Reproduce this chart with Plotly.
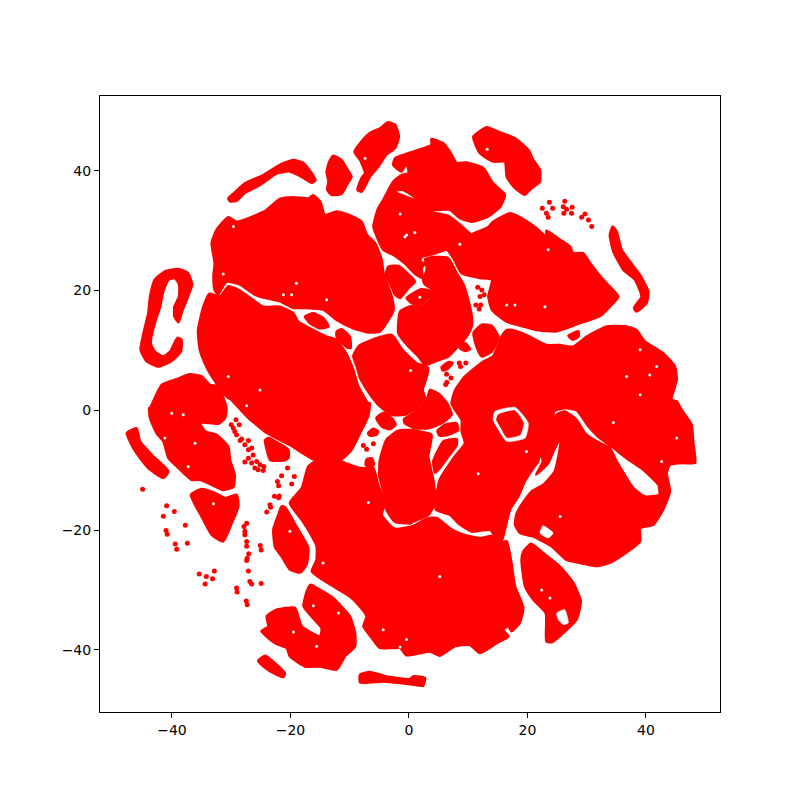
import plotly.graph_objects as go

left_loop = [(-38.9,23.6),(-37.3,22.9),(-36.6,21.0),(-37.5,18.5),(-38.4,16.2),(-38.9,14.7),(-39.6,15.7),(-39.6,17.3),(-38.8,19.0),(-38.8,21.0),(-39.5,22.1),(-40.6,21.8),(-41.5,19.8),(-42.0,17.3),(-42.9,14.6),(-43.6,11.2),(-42.9,9.8),(-41.5,9.0),(-40.3,9.8),(-39.1,12.1),(-38.4,11.8),(-38.5,9.8),(-40.1,8.2),(-42.3,7.3),(-44.3,8.2),(-45.3,10.1),(-44.8,12.9),(-44.0,16.2),(-43.7,19.0),(-42.9,21.8),(-41.2,23.2)]
top_arc = [(-30.5,35.4),(-29.4,36.4),(-27.7,37.9),(-24.6,39.3),(-21.8,41.0),(-19.5,41.8),(-17.8,41.3),(-16.4,39.6),(-15.8,38.4),(-16.4,38.0),(-18.1,39.0),(-20.1,39.9),(-22.3,39.6),(-25.1,37.65),(-27.7,36.3),(-29.1,35.0),(-30.2,34.9)]
small_top = [(-12.8,42.5),(-11.4,41.8),(-10.5,40.4),(-9.7,39.0),(-10.5,37.65),(-11.4,36.15),(-13.05,36.0),(-13.8,36.8),(-13.6,38.2),(-13.9,39.9),(-13.45,41.5)]
top_spike = [(-3.5,48.1),(-2.35,47.7),(-1.7,45.7),(-2.35,43.8),(-3.8,42.7),(-5.2,40.7),(-6.6,39.0),(-8.0,36.5),(-8.7,36.8),(-8.0,38.8),(-7.4,39.6),(-8.25,41.8),(-9.2,43.2),(-8.25,44.6),(-6.6,46.3),(-4.9,47.1)]
upper_left = [(-30.5,32.25),(-29.1,31.5),(-26.3,32.4),(-24.0,33.5),(-21.8,35.3),(-19.5,35.6),(-17.0,35.4),(-16.2,35.9),(-15.0,34.9),(-14.2,32.6),(-12.2,33.2),(-10.0,32.6),(-8.0,31.5),(-7.1,29.3),(-5.7,27.9),(-4.6,25.1),(-4.3,22.9),(-2.9,19.0),(-2.6,16.8),(-3.8,14.55),(-4.9,13.15),(-6.9,13.0),(-9.4,13.7),(-12.2,15.1),(-14.5,16.8),(-17.3,17.1),(-19.5,17.1),(-21.8,18.2),(-24.0,18.7),(-26.0,19.3),(-28.5,21.0),(-30.8,21.5),(-31.9,19.8),(-32.2,19.3),(-32.8,20.1),(-33.0,22.4),(-32.8,24.6),(-33.3,27.9),(-32.5,30.1)]
left_large = [(-33.7,19.45),(-31.9,19.0),(-30.5,20.7),(-28.8,20.1),(-26.3,18.45),(-24.6,17.3),(-21.8,17.3),(-19.5,16.2),(-18.7,14.8),(-16.7,13.7),(-13.9,12.3),(-12.2,11.8),(-10.5,9.3),(-9.4,6.75),(-8.55,4.0),(-6.9,1.2),(-6.6,1.2),(-6.9,-1.0),(-8.25,-3.8),(-9.7,-6.6),(-11.4,-8.2),(-15.9,-8.3),(-20.1,-5.8),(-24.0,-3.8),(-27.4,-1.0),(-30.0,1.75),(-30.8,2.3),(-32.5,4.5),(-34.2,7.3),(-35.3,10.1),(-35.6,13.4),(-34.7,17.3)]
bottom_large = [(-11.4,-8.55),(-8.25,-9.65),(-6.6,-9.65),(-6.0,-9.65),(-5.2,-12.4),(-4.05,-15.5),(-4.6,-17.45),(-2.65,-19.7),(-1.5,-19.8),(0.75,-19.3),(3.3,-18.0),(4.7,-18.0),(6.9,-19.7),(9.2,-20.8),(12.0,-21.35),(13.95,-21.0),(15.4,-22.1),(16.5,-21.9),(17.3,-25.5),(17.9,-29.4),(19.3,-33.0),(18.7,-35.5),(17.3,-36.9),(16.8,-36.1),(15.9,-36.65),(16.8,-37.8),(14.8,-38.9),(12.0,-40.55),(10.3,-39.2),(7.8,-39.4),(5.2,-41.0),(3.5,-40.3),(0.75,-40.8),(-0.5,-40.9),(-1.5,-39.7),(-4.9,-39.7),(-6.3,-38.0),(-7.7,-36.1),(-7.15,-34.4),(-8.8,-32.2),(-10.0,-31.1),(-12.8,-29.4),(-16.4,-26.9),(-15.6,-25.0),(-15.6,-22.7),(-16.7,-20.5),(-18.1,-18.3),(-20.1,-15.5),(-18.1,-13.0),(-17.0,-9.4),(-15.9,-8.55),(-13.9,-7.7)]
center_bottom = [(-3.8,-4.9),(-1.8,-3.4),(0.2,-3.3),(1.85,-3.55),(3.8,-4.1),(3.25,-7.7),(4.1,-11.6),(4.4,-15.5),(3.3,-17.45),(0.75,-18.6),(0.2,-18.9),(-2.4,-18.6),(-3.8,-16.6),(-4.05,-14.4),(-5.0,-11.05),(-4.9,-8.3)]
tip_blob = [(-7.15,-8.2),(-6.3,-8.0),(-5.9,-9.1),(-6.6,-9.65),(-7.3,-9.1)]
big_right = [(4.55,-16.6),(6.9,-17.45),(8.6,-19.1),(10.6,-20.25),(12.0,-20.1),(13.8,-20.0),(14.2,-20.6),(15.6,-21.9),(16.4,-19.1),(17.05,-16.6),(18.45,-14.4),(19.55,-11.9),(21.0,-9.65),(21.8,-8.55),(22.1,-7.15),(22.6,-8.55),(21.45,-10.75),(23.5,-8.85),(24.5,-6.6),(25.4,-4.65),(24.4,-1.9),(24.5,-0.2),(26.3,0.36),(28.3,0.0),(30.3,-2.7),(32.2,-4.65),(33.9,-5.8),(36.7,-8.0),(39.55,-9.95),(42.1,-12.45),(42.25,-14.1),(39.8,-14.4),(37.9,-13.0),(35.05,-8.55),(33.9,-6.3),(31.7,-5.2),(29.7,-3.8),(28.3,-1.6),(26.3,-0.2),(24.9,-0.75),(24.8,-1.9),(25.65,-4.65),(24.6,-10.2),(22.65,-12.45),(20.7,-13.55),(19.55,-15.0),(18.2,-17.2),(17.9,-19.1),(18.75,-20.5),(21.0,-21.1),(24.1,-22.75),(26.6,-25.0),(28.9,-25.5),(31.7,-26.0),(33.9,-25.5),(36.2,-24.1),(39.0,-21.9),(39.0,-19.7),(41.25,-19.1),(42.9,-16.6),(44.05,-13.55),(43.5,-10.5),(44.05,-9.1),(46.3,-8.8),(48.3,-8.8),(48.0,-5.5),(47.7,-2.4),(46.0,0.1),(45.2,1.5),(44.3,1.75),(45.2,5.1),(44.9,7.3),(42.9,9.55),(39.8,11.5),(38.4,13.4),(36.7,14.0),(33.4,14.0),(30.0,12.3),(27.7,10.65),(25.5,10.9),(23.2,10.9),(20.4,12.3),(18.2,13.2),(16.5,13.4),(15.6,12.3),(14.2,9.0),(12.55,8.15),(9.45,5.65),(7.8,3.4),(7.2,1.2),(7.75,0.1),(8.9,-1.6),(8.9,-3.55),(9.45,-5.5),(7.75,-7.7),(5.2,-11.6)]
top_mid = [(16.2,36.0),(15.4,34.0),(13.4,32.4),(10.6,31.5),(8.6,32.1),(6.9,33.5),(3.8,33.5),(1.3,35.4),(-1.0,36.8),(-2.4,36.7),(-2.1,36.3),(1.3,35.0),(3.55,33.2),(6.6,32.5),(8.6,31.0),(10.6,29.3),(10.85,29.5),(13.4,30.6),(14.2,31.5),(17.05,32.9),(19.0,32.1),(21.55,30.4),(23.2,29.0),(23.2,30.0),(25.5,28.5),(27.2,27.35),(27.7,26.25),(29.4,26.25),(30.55,24.6),(32.8,21.8),(35.35,19.0),(34.2,17.6),(32.2,15.7),(28.9,14.55),(24.9,13.2),(21.55,13.4),(19.3,14.0),(16.5,14.8),(14.0,16.8),(13.4,19.0),(14.0,21.8),(12.0,22.1),(8.9,22.9),(7.5,25.4),(6.4,26.8),(4.1,26.1),(2.15,25.6),(1.9,24.85),(2.7,24.5),(2.15,23.75),(2.3,22.1),(1.0,22.8),(-0.67,24.5),(-2.35,25.8),(-4.3,26.8),(-5.2,28.5),(-6.0,30.7),(-5.2,33.75),(-4.3,35.2),(-2.65,38.2),(-1.25,39.3),(-0.1,39.6),(-0.4,41.3),(-1.25,39.9),(-2.65,41.0),(-2.35,42.1),(0.7,43.2),(3.8,44.3),(3.8,45.3),(5.8,44.6),(6.9,43.2),(8.05,41.3),(9.7,41.4),(12.55,40.45),(14.2,37.9)]
center_upper = [(2.7,25.25),(4.1,25.6),(6.65,25.4),(8.05,22.9),(9.2,21.0),(10.0,18.45),(10.6,15.7),(10.6,14.0),(9.75,12.3),(8.05,10.4),(6.65,9.0),(4.4,8.15),(2.7,7.6),(1.6,9.0),(-0.1,10.65),(-1.8,12.9),(-1.8,14.55),(-1.5,16.5),(0.15,17.35),(2.15,17.35),(3.55,18.45),(4.0,20.1),(2.7,21.0),(2.4,21.8),(3.0,23.45),(2.9,24.45)]
triangle_blob = [(-3.5,24.0),(-1.8,24.1),(1.0,21.5),(-0.1,20.4),(-1.5,18.75),(-2.35,19.3),(-3.2,21.2),(-3.9,22.6)]
ring_cluster = [(-0.4,18.75),(0.7,19.55),(2.15,20.2),(3.85,19.85),(3.3,18.75),(1.85,17.6),(0.45,17.9)]
oval_right = [(10.9,12.9),(12.3,14.3),(13.95,14.1),(15.1,12.3),(13.95,9.8),(12.3,9.0),(11.4,10.65)]
bay_small = [(9.35,11.3),(10.3,10.2),(9.45,9.9),(8.6,10.4)]
bay_strip = [(5.5,7.2),(6.65,8.05),(7.4,7.9),(6.5,6.9),(5.7,6.65)]
center_mid = [(-9.4,9.0),(-8.55,10.65),(-5.5,12.05),(-2.9,12.6),(-1.1,10.1),(1.2,7.9),(3.25,7.05),(2.85,5.1),(2.3,3.4),(2.7,2.05),(1.6,0.55),(-0.7,-0.75),(-2.9,-0.75),(-4.9,0.65),(-6.9,3.15),(-8.25,5.4),(-8.8,7.3)]
center_wedge = [(3.55,3.4),(5.2,2.6),(6.6,0.9),(7.2,-0.75),(5.5,-2.15),(3.25,-3.0),(1.0,-3.0),(-0.7,-2.15),(-0.85,-1.5),(0.73,-0.5),(2.1,0.55),(3.1,2.05)]
oval_left = [(-5.5,-1.3),(-4.3,-0.4),(-2.9,-1.3),(-2.25,-2.4),(-3.2,-3.15),(-4.6,-2.7)]
gap_cluster = [(-6.9,-3.8),(-6.0,-3.1),(-5.2,-3.5),(-5.5,-4.1),(-6.6,-4.25)]
oval_mid = [(4.8,-3.5),(6.1,-2.4),(8.0,-2.15),(8.3,-3.3),(6.6,-4.1),(5.2,-4.25)]
sliver = [(5.8,-5.2),(8.05,-4.8),(8.05,-5.8),(6.9,-7.4),(5.2,-9.65),(4.4,-10.4),(4.1,-8.55),(4.95,-6.6)]
channel_oval = [(-17.55,15.67),(-16.15,16.2),(-14.45,15.4),(-13.6,14.0),(-15.0,13.7),(-16.7,14.55)]
channel_tri = [(-12.2,13.15),(-11.4,13.55),(-10.0,12.3),(-9.85,10.4),(-10.5,10.55),(-12.2,12.3)]
left_mid = [(-43.7,0.4),(-41.75,4.25),(-39.2,5.2),(-37.0,6.0),(-35.0,5.65),(-33.6,4.25),(-32.2,4.0),(-30.8,0.35),(-31.05,-1.3),(-32.2,-2.25),(-35.3,-2.05),(-34.4,-3.55),(-32.5,-4.1),(-30.5,-6.05),(-30.2,-8.3),(-29.4,-10.8),(-29.65,-12.8),(-31.35,-13.3),(-33.3,-12.45),(-35.3,-11.6),(-36.7,-11.6),(-38.9,-9.65),(-40.6,-8.0),(-41.45,-5.2),(-42.6,-3.8),(-43.7,-1.3),(-43.85,0.35)]
far_left_band = [(-47.65,-3.8),(-46.0,-3.0),(-45.4,-5.2),(-43.15,-7.7),(-40.6,-10.2),(-41.45,-11.3),(-44.0,-9.65),(-46.0,-7.15),(-47.1,-5.2)]
left_lower = [(-36.8,-14.1),(-35.0,-13.15),(-32.75,-13.8),(-31.05,-14.65),(-29.1,-14.1),(-28.8,-16.05),(-29.9,-18.85),(-31.35,-21.9),(-33.3,-20.8),(-35.0,-17.75),(-36.1,-15.8)]
mid_small = [(-24.3,-5.05),(-23.75,-4.65),(-20.35,-6.6),(-20.35,-8.0),(-21.2,-8.4),(-23.45,-8.3),(-24.0,-6.6)]
lower_oval = [(-21.5,-16.05),(-20.9,-16.2),(-19.0,-19.4),(-17.0,-23.0),(-17.3,-25.8),(-18.4,-27.1),(-20.1,-26.6),(-21.5,-24.4),(-22.6,-22.9),(-22.9,-19.95),(-22.05,-17.45)]
crescent = [(-16.6,-29.15),(-15.0,-30.0),(-12.8,-31.35),(-10.0,-34.4),(-9.1,-37.2),(-9.1,-39.4),(-10.8,-41.1),(-12.2,-43.3),(-15.0,-42.8),(-17.55,-42.8),(-20.1,-41.1),(-20.65,-39.7),(-22.6,-38.9),(-24.9,-36.9),(-23.75,-36.1),(-24.0,-34.4),(-22.3,-33.3),(-19.25,-33.0),(-18.1,-36.1),(-15.0,-37.75),(-14.75,-36.4),(-16.7,-34.15),(-17.8,-32.75),(-17.25,-30.25)]
low_band = [(-25.45,-41.9),(-24.3,-41.0),(-20.95,-43.9),(-21.2,-44.55),(-23.45,-43.6)]
bottom_strip = [(-8.25,-44.15),(-6.6,-43.7),(-3.8,-44.45),(0.2,-44.9),(0.73,-44.45),(2.7,-44.7),(2.4,-46.0),(0.45,-45.8),(-1.5,-45.55),(-4.35,-45.3),(-8.25,-45.45)]
lower_right = [(20.6,-22.3),(22.65,-23.85),(25.5,-26.1),(27.75,-28.85),(29.0,-31.9),(28.3,-34.95),(26.05,-37.2),(24.1,-38.75),(23.2,-38.6),(23.1,-33.9),(21.0,-31.65),(19.6,-29.4),(19.0,-25.0),(19.3,-23.6)]
top_right = [(10.85,45.7),(13.1,47.3),(15.05,46.55),(17.9,45.45),(20.15,43.5),(21.0,41.8),(22.1,40.15),(22.1,38.2),(20.7,37.1),(19.55,36.0),(17.9,37.1),(16.5,39.0),(16.2,41.55),(14.2,41.55),(12.0,42.9),(11.15,44.6)]
right_band = [(34.4,30.7),(35.05,29.85),(35.9,26.8),(37.3,24.85),(39.0,22.6),(40.4,19.85),(40.1,17.9),(38.4,16.5),(38.0,17.1),(39.25,19.0),(38.15,21.8),(36.2,23.45),(34.5,26.5),(33.9,29.3)]
right_bay = [(26.9,12.45),(28.6,13.2),(28.6,12.3),(27.7,11.8)]

# white pockets inside the big clusters
ring_gap = [(14.5,-0.2),(17.9,0.5),(20.15,-2.15),(19.6,-4.65),(16.5,-5.2),(15.1,-3.25),(14.2,-1.6)]
lobe_gap = [(22.65,-19.3),(24.35,-20.5),(23.5,-21.35),(22.1,-20.5)]
lower_right_gap = [(24.9,-33.9),(26.3,-33.3),(26.9,-35.55),(26.05,-35.8),(25.2,-34.95)]
ring_core = [(15.1,-0.75),(17.9,-0.1),(19.3,-2.15),(18.7,-4.1),(16.5,-4.5),(15.6,-3.0),(14.8,-1.6)]

# loose points
dots_x = [-29.2,-30.0,-28.65,-29.4,-29.1,-28.25,-27.1,-27.7,-26.55,-27.1,-27.1,-26.3,-27.7,-26.55,-25.7,-26.0,-25.45,-24.5,-24.6,-25.15,-29.65,-28.5,
          -44.95,-40.9,-39.6,-41.45,-37.75,-41.0,-40.8,-39.45,-37.4,-39.2,-35.4,-34.2,-32.85,-33.15,-34.4,-29.1,-29.0,-27.45,-27.3,-24.95,-27.1,-26.85,-26.55,-25.1,-24.95,-27.4,-27.85,-27.7,-27.7,-27.4,-27.4,-27.05,-27.3,-27.4,
          -20.5,-21.5,-22.2,-22.0,-19.35,-19.8,-22.7,-21.9,-22.0,-23.45,-23.35,-24.0,
          22.5,23.7,24.25,23.2,23.5,26.3,26.05,26.6,27.55,27.45,26.15,29.15,29.7,30.3,30.85,
          11.6,12.3,12.7,12.0,11.3,12.1,11.85,8.5,8.7,9.6,6.35,7.1,6.4,6.2,-7.7,-7.15,-6.0]
dots_y = [-1.6,-2.4,-2.4,-3.55,-4.1,-4.8,-5.05,-5.75,-6.3,-6.6,-8.0,-7.45,-8.65,-8.8,-8.55,-9.65,-9.95,-9.4,-10.05,-9.1,-2.95,-5.05,
          -13.2,-15.95,-16.9,-17.7,-19.2,-20.1,-20.7,-22.35,-22.2,-23.2,-27.35,-27.75,-26.85,-28.15,-29.0,-29.7,-30.35,-31.85,-32.5,-28.95,-26.85,-28.6,-29.0,-22.6,-23.35,-18.85,-19.4,-20.2,-20.8,-21.9,-22.7,-23.95,-24.7,-25.1,
          -9.65,-10.95,-11.9,-12.6,-11.05,-12.3,-14.35,-14.3,-14.6,-15.8,-16.2,-17.0,
          33.75,34.75,33.75,32.9,32.25,34.9,34.0,33.6,33.9,32.9,32.9,32.25,32.8,31.8,30.7,
          20.55,20.1,19.3,19.0,17.6,17.6,16.9,7.9,7.3,7.9,6.0,5.4,4.7,4.3,-5.9,-6.5,-5.6]

# small holes left between points
holes_x = [-31.35,-19.8,-13.9,-0.7,-7.4,-1.5,-30.5,-27.4,-25.15,-29.65,-19.0,-21.2,17.9,16.5,22.95,23.5,-0.4,1.0,8.6,40.65,36.75,39.0,39.0,41.8,
           -36.1,-41.2,-37.25,-38.1,-40.05,-33.0,-16.15,-11.9,-15.6,-19.5,-4.35,-1.5,-6.85,-14.5,-20.1,45.2,42.65,34.5,25.5,5.2,-0.4,22.4,23.8,11.7,19.85,13.2,0.28,1.85]
holes_y = [22.75,19.3,18.45,29.0,42.1,32.8,5.65,0.75,3.4,30.7,21.2,19.3,17.6,17.6,17.3,26.8,29.3,29.7,27.75,5.9,5.65,2.6,10.1,7.3,
           -5.5,-4.65,-9.4,-0.75,-0.5,-15.6,-32.65,-33.85,-39.4,-37.05,-36.65,-39.55,-15.4,-25.5,-20.2,-4.65,-8.55,-2.05,-17.75,-27.75,-38.3,-30.0,-31.35,-10.6,-6.9,43.6,6.65,18.9]

clusters = [left_loop, top_arc, small_top, top_spike, upper_left, left_large, bottom_large, center_bottom, tip_blob,
            big_right, top_mid, center_upper, triangle_blob, ring_cluster, oval_right, bay_small, bay_strip, center_mid,
            center_wedge, oval_left, gap_cluster, oval_mid, sliver, channel_oval, channel_tri, left_mid, far_left_band,
            left_lower, mid_small, lower_oval, crescent, low_band, bottom_strip, lower_right, top_right, right_band, right_bay]
gaps = [ring_gap, lobe_gap, lower_right_gap]


def outline(points, color, width):
    xs = [p[0] for p in points] + [points[0][0]]
    ys = [p[1] for p in points] + [points[0][1]]
    return go.Scatter(x=xs, y=ys, mode="lines", fill="toself", fillcolor=color,
                      line=dict(color=color, width=width, shape="spline", smoothing=0.5),
                      hoverinfo="skip", showlegend=False)


fig = go.Figure()
for c in clusters:
    fig.add_trace(outline(c, "#ff0000", 2.5))
for g in gaps:
    fig.add_trace(outline(g, "#ffffff", 0.5))
fig.add_trace(outline(ring_core, "#ff0000", 1))
fig.add_trace(go.Scatter(x=dots_x, y=dots_y, mode="markers", showlegend=False, hoverinfo="skip",
                         marker=dict(color="#ff0000", size=5, line=dict(width=0))))
fig.add_trace(go.Scatter(x=holes_x, y=holes_y, mode="markers", showlegend=False, hoverinfo="skip",
                         marker=dict(color="#ffffff", size=3, line=dict(width=0))))

axis = dict(showgrid=False, zeroline=False, showline=True, mirror=True, linecolor="black", linewidth=1,
            ticks="outside", ticklen=5, tickwidth=1, tickcolor="black", tickvals=[-40, -20, 0, 20, 40],
            tickfont=dict(family="DejaVu Sans", size=14, color="black"))
# page body adds an 8px offset, so margins are 8 less on the top/left
fig.update_layout(width=800, height=800, autosize=False, paper_bgcolor="white", plot_bgcolor="white",
                  margin=dict(l=92, r=88, t=88, b=96),
                  xaxis=dict(axis, range=[-52.15, 52.5]),
                  yaxis=dict(axis, range=[-50.4, 52.5]))
fig.write_html("out.html")
